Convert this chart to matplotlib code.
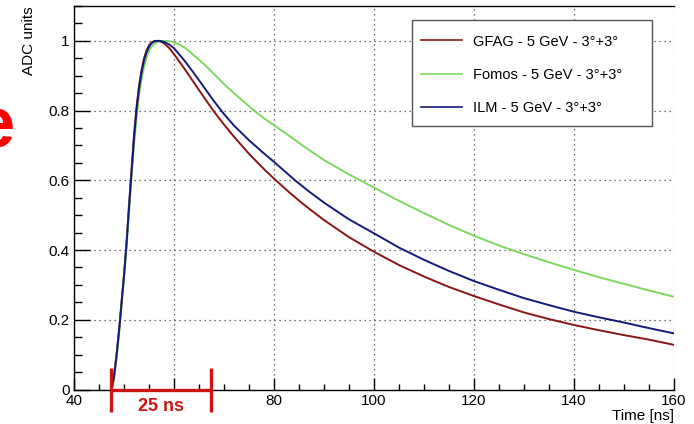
import matplotlib
matplotlib.use("Agg")
import matplotlib.pyplot as plt
from matplotlib.patches import Rectangle
from matplotlib.ticker import MultipleLocator, FixedLocator, FixedFormatter

plt.rcParams['font.family'] = ['Liberation Sans', 'DejaVu Sans']

# ---------------- data ----------------
gfag_t = [47.5, 48, 48.5, 49, 49.5, 50, 50.5, 51, 51.5, 52, 52.5, 53, 53.5, 54, 54.5, 55, 55.5, 56, 56.5,
          57.0, 58, 59, 60, 62, 64, 66, 68, 70, 72, 75, 78, 80, 83, 86, 90, 95, 100, 105, 110, 115, 120,
          125, 130, 135, 140, 145, 150, 155, 160]
gfag_v = [0.0, 0.04, 0.10, 0.17, 0.25, 0.33, 0.42, 0.53, 0.63, 0.73, 0.81, 0.87, 0.915, 0.95, 0.972, 0.987, 0.995, 0.999, 0.9998,
          1.0, 0.993, 0.980, 0.962, 0.922, 0.880, 0.838, 0.797, 0.760, 0.725, 0.676, 0.632, 0.605, 0.566, 0.530, 0.486, 0.437, 0.395, 0.357, 0.324, 0.294, 0.268,
          0.244, 0.221, 0.202, 0.185, 0.170, 0.156, 0.143, 0.128]

fomos_t = [47.6, 48, 48.5, 49, 49.5, 50, 50.5, 51, 51.5, 52, 52.5, 53, 53.5, 54, 54.5, 55, 55.5, 56, 56.5, 57, 57.5,
           58.5, 59.5, 60, 61, 62, 63, 64, 65, 66, 68, 70, 72, 74, 76, 78, 80, 83, 86, 90, 95, 100, 105, 110, 115,
           120, 125, 130, 135, 140, 145, 150, 155, 160]
fomos_v = [0.0, 0.03, 0.09, 0.16, 0.24, 0.32, 0.41, 0.51, 0.61, 0.70, 0.78, 0.845, 0.89, 0.925, 0.952, 0.972, 0.983, 0.990, 0.996, 0.998, 0.9995,
           1.0, 0.998, 0.996, 0.990, 0.982, 0.971, 0.958, 0.946, 0.933, 0.905, 0.876, 0.850, 0.825, 0.800, 0.778, 0.758, 0.728, 0.697, 0.658, 0.617, 0.579, 0.541, 0.506, 0.472,
           0.441, 0.413, 0.388, 0.365, 0.343, 0.322, 0.303, 0.284, 0.266]

ilm_t = [47.5, 48, 48.5, 49, 49.5, 50, 50.5, 51, 51.5, 52, 52.5, 53, 53.5, 54, 54.5, 55, 55.5, 56, 56.5,
         57.2, 58, 59, 60, 62, 64, 66, 68, 70, 72, 75, 78, 80, 84.2, 87, 90, 95, 100, 105, 110, 115, 120,
         125, 130, 135, 140, 145, 150, 155, 160]
ilm_v = [0.0, 0.035, 0.095, 0.165, 0.245, 0.325, 0.415, 0.52, 0.62, 0.72, 0.80, 0.862, 0.908, 0.943, 0.967, 0.983, 0.993, 0.998, 0.9995,
         1.0, 0.997, 0.990, 0.979, 0.945, 0.907, 0.867, 0.827, 0.790, 0.757, 0.715, 0.677, 0.653, 0.600, 0.568, 0.536, 0.488, 0.448, 0.407, 0.372, 0.340, 0.311,
         0.286, 0.262, 0.242, 0.223, 0.207, 0.192, 0.176, 0.161]

series_labels = ["GFAG - 5 GeV - 3°+3°", "Fomos - 5 GeV - 3°+3°", "ILM - 5 GeV - 3°+3°"]
series_colors = ["#8a1515", "#7cd860", "#141a7a"]

x_major = [40, 60, 80, 100, 120, 140, 160]
x_labels = ["40", "", "80", "100", "120", "140", "160"]
y_major = [0, 0.2, 0.4, 0.6, 0.8, 1.0]
y_labels = ["0", "0.2", "0.4", "0.6", "0.8", "1"]

bracket_x = [47.3, 67.4]
bracket_label = "25 ns"

# ---------------- figure ----------------
fig = plt.figure(figsize=(6.94, 4.24), dpi=100)
ax = fig.add_axes([74/694, 34.5/424, 600/694, 383.5/424])

for t, v, lab, col in zip([gfag_t, fomos_t, ilm_t], [gfag_v, fomos_v, ilm_v], series_labels, series_colors):
    ax.plot(t, v, color=col, lw=1.4, label=lab, solid_joinstyle='round')

ax.set_xlim(40, 160)
ax.set_ylim(0, 1.1)

ax.xaxis.set_major_locator(FixedLocator(x_major))
ax.xaxis.set_major_formatter(FixedFormatter(x_labels))
ax.xaxis.set_minor_locator(MultipleLocator(5))
ax.yaxis.set_major_locator(FixedLocator(y_major))
ax.yaxis.set_major_formatter(FixedFormatter(y_labels))
ax.yaxis.set_minor_locator(MultipleLocator(0.05))

ax.tick_params(axis='both', which='both', direction='in', top=False, right=False,
               labelsize=11, colors='black', width=1.0)
ax.tick_params(axis='x', which='major', length=9, pad=3)
ax.tick_params(axis='x', which='minor', length=4.5)
ax.tick_params(axis='y', which='major', length=11.5, pad=3)
ax.tick_params(axis='y', which='minor', length=6)

ax.grid(True, which='major', color='#444444', linestyle=(0, (1, 3)), linewidth=0.9)
for s in ['left', 'bottom', 'top']:
    ax.spines[s].set_linewidth(1.0)
ax.spines['right'].set_visible(False)

ax.set_ylabel("ADC units", fontsize=11, loc='top', labelpad=9)
ax.set_xlabel("Time [ns]", fontsize=11, loc='right', labelpad=1)

# legend box (drawn as a patch) + entries
box_x0, box_x1 = (412 - 74) / 600, (652 - 74) / 600
box_y0, box_y1 = (389.5 - 126) / 383.5, (389.5 - 20) / 383.5
ax.add_patch(Rectangle((box_x0, box_y0), box_x1 - box_x0, box_y1 - box_y0, transform=ax.transAxes,
                       facecolor='white', edgecolor='#555555', linewidth=1.0, zorder=4.5))
leg = ax.legend(loc='upper left', bbox_to_anchor=((421 - 74) / 600, (389.5 - 34.5) / 383.5), fontsize=10.5,
                frameon=False, handlelength=2.8, handletextpad=0.75, labelspacing=1.32, borderpad=0,
                borderaxespad=0)
for ln in leg.get_lines():
    ln.set_linewidth(1.2)

# red 25 ns bracket
red = "#cc1414"
ax.plot(bracket_x, [0, 0], color=red, lw=2.4, clip_on=False, zorder=5, solid_capstyle='butt')
for bx in bracket_x:
    ax.plot([bx, bx], [-0.065, 0.062], color=red, lw=2.4, clip_on=False, zorder=5, solid_capstyle='butt')
ax.text(sum(bracket_x) / 2, -0.05, bracket_label, color=red, fontsize=13, fontweight='bold',
        ha='center', va='center', zorder=6)

# cropped big red "e" at the left edge
fig.text(-26/694, (424-148)/424, "e", color="#ff0000", fontsize=52, fontweight='bold',
         ha='left', va='baseline')

fig.savefig("out.png", dpi=100)
